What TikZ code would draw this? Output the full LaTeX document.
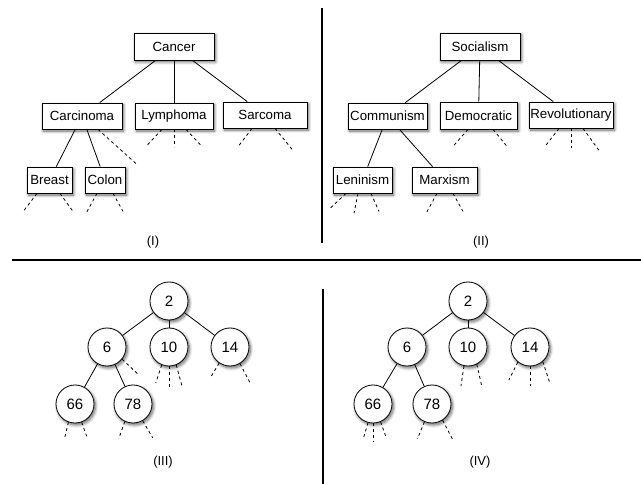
\documentclass[tikz,border=0pt]{standalone}
\usepackage{fontspec}
\setmainfont{Liberation Sans}
\usetikzlibrary{shadows,shadows.blur}
\begin{document}
\begin{tikzpicture}[x=1pt,y=-1pt,
  shd/.style={blur shadow={shadow blur steps=8, shadow xshift=1.5pt, shadow yshift=-2pt, shadow opacity=60, shadow blur radius=3pt}},
  box/.style={draw, fill=white, line width=0.8pt, minimum height=26pt, inner sep=1pt, font=\fontsize{13.3}{15}\selectfont, shd},
  circ/.style={circle, draw, fill=white, line width=0.8pt, minimum size=38pt, inner sep=0pt, font=\fontsize{15}{17}\selectfont, shd},
  edge/.style={line width=0.8pt},
  stub/.style={line width=0.8pt, dash pattern=on 3pt off 3pt},
  divider/.style={line width=2.6pt},
  lab/.style={font=\fontsize{13}{15}\selectfont}]
\useasboundingbox (0,0) rectangle (641,484);

% dividers
\draw[divider] (322,8) -- (322,243);
\draw[divider] (12,260) -- (641,260);
\draw[divider] (323,289) -- (323,484);

% ---------- Panel I ----------
\node[box, minimum width=80pt, minimum height=27pt] (cancer) at (174,46.5) {Cancer};
\node[box, minimum width=80pt] (carc) at (82,116) {Carcinoma};
\node[box, minimum width=78pt] (lym) at (174,116) {Lymphoma};
\node[box, minimum width=84pt] (sarc) at (265,115) {Sarcoma};
\node[box, minimum width=45pt] (breast) at (49.5,180) {Breast};
\node[box, minimum width=40pt] (colon) at (105,180) {Colon};
\draw[edge] (cancer) -- (carc);
\draw[edge] (cancer) -- (lym);
\draw[edge] (cancer) -- (sarc);
\draw[edge] (carc) -- (breast);
\draw[edge] (carc) -- (colon);
\draw[stub] ([xshift=16pt]carc.south) -- ++(40,36);
\draw[stub] ([xshift=-12pt]lym.south) -- ++(-16,17);
\draw[stub] (lym.south) -- ++(0,18);
\draw[stub] ([xshift=12pt]lym.south) -- ++(15,16);
\draw[stub] ([xshift=-13pt]sarc.south) -- ++(-13,17);
\draw[stub] ([xshift=10pt]sarc.south) -- ++(18,22);
\draw[stub] ([xshift=-12.5pt]breast.south) -- ++(-13,17);
\draw[stub] ([xshift=10.5pt]breast.south) -- ++(13,18);
\draw[stub] ([xshift=-8pt]colon.south) -- ++(-11,20);
\draw[stub] ([xshift=8pt]colon.south) -- ++(10,18);
\node[lab] (labI) at (153,242) {(I)};

% ---------- Panel II ----------
\node[box, minimum width=80pt, minimum height=27pt] (soc) at (480,46.5) {Socialism};
\node[box, minimum width=79pt] (comm) at (387.5,116) {Communism};
\node[box, minimum width=77pt, minimum height=27pt] (dem) at (478.5,115.5) {Democratic};
\node[box, minimum width=84pt] (rev) at (571,115) {Revolutionary};
\node[box, minimum width=59pt] (len) at (362.5,180) {Leninism};
\node[box, minimum width=65pt] (marx) at (444.5,180) {Marxism};
\draw[edge] (soc) -- (comm);
\draw[edge] (soc) -- (dem);
\draw[edge] (soc) -- (rev);
\draw[edge] (comm) -- (len);
\draw[edge] (comm) -- (marx);
\draw[stub] ([xshift=-10.5pt]dem.south) -- ++(-15,17);
\draw[stub] ([xshift=14.5pt]dem.south) -- ++(14,17);
\draw[stub] ([xshift=-12pt]rev.south) -- ++(-14,18);
\draw[stub] (rev.south) -- ++(0,20);
\draw[stub] ([xshift=12pt]rev.south) -- ++(16,22);
\draw[stub] ([xshift=-16.5pt]len.south) -- ++(-16,15);
\draw[stub] ([xshift=-4.5pt]len.south) -- ++(-4,20);
\draw[stub] ([xshift=8.5pt]len.south) -- ++(8,18);
\draw[stub] ([xshift=-7.5pt]marx.south) -- ++(-11,20);
\draw[stub] ([xshift=8.5pt]marx.south) -- ++(10,18);
\node[lab] (labII) at (481,242) {(II)};

% ---------- Panel III ----------
\node[circ] (a2) at (169,301) {2};
\node[circ] (a6) at (107,347) {6};
\node[circ] (a10) at (169,347) {10};
\node[circ] (a14) at (230,347) {14};
\node[circ] (a66) at (75,404) {66};
\node[circ] (a78) at (133,404) {78};
\draw[edge] (a2) -- (a6);
\draw[edge] (a2) -- (a10);
\draw[edge] (a2) -- (a14);
\draw[edge] (a6) -- (a66);
\draw[edge] (a6) -- (a78);
\draw[stub] (a6.-39) -- ++(16,15);
\draw[stub] (a10.-112) -- ++(-6,18);
\draw[stub] (a10.-90) -- ++(0,22);
\draw[stub] (a10.-68) -- ++(6,22);
\draw[stub] (a14.-124) -- ++(-9,15);
\draw[stub] (a14.-59) -- ++(10,19);
\draw[stub] (a66.-110) -- ++(-4,17);
\draw[stub] (a66.-70) -- ++(5,14);
\draw[stub] (a78.-115) -- ++(-6,17);
\draw[stub] (a78.-60) -- ++(10,17);
\node[lab] (labIII) at (163,462) {(III)};

% ---------- Panel IV ----------
\node[circ] (b2) at (468,301) {2};
\node[circ] (b6) at (407,347) {6};
\node[circ] (b10) at (468,347) {10};
\node[circ] (b14) at (530,347) {14};
\node[circ] (b66) at (373,404) {66};
\node[circ] (b78) at (432,404) {78};
\draw[edge] (b2) -- (b6);
\draw[edge] (b2) -- (b10);
\draw[edge] (b2) -- (b14);
\draw[edge] (b6) -- (b66);
\draw[edge] (b6) -- (b78);
\draw[stub] (b10.-102) -- ++(-3,20);
\draw[stub] (b10.-63) -- ++(5,22);
\draw[stub] (b14.-129) -- ++(-9,18);
\draw[stub] (b14.-90) -- ++(0,20);
\draw[stub] (b14.-49) -- ++(7,21);
\draw[stub] (b66.-105) -- ++(-5,17);
\draw[stub] (b66.-88) -- ++(0,19);
\draw[stub] (b66.-67) -- ++(5,14);
\draw[stub] (b78.-113) -- ++(-7,17);
\draw[stub] (b78.-57) -- ++(10,19);
\node[lab] (labIV) at (480,462) {(IV)};
\end{tikzpicture}
\end{document}
